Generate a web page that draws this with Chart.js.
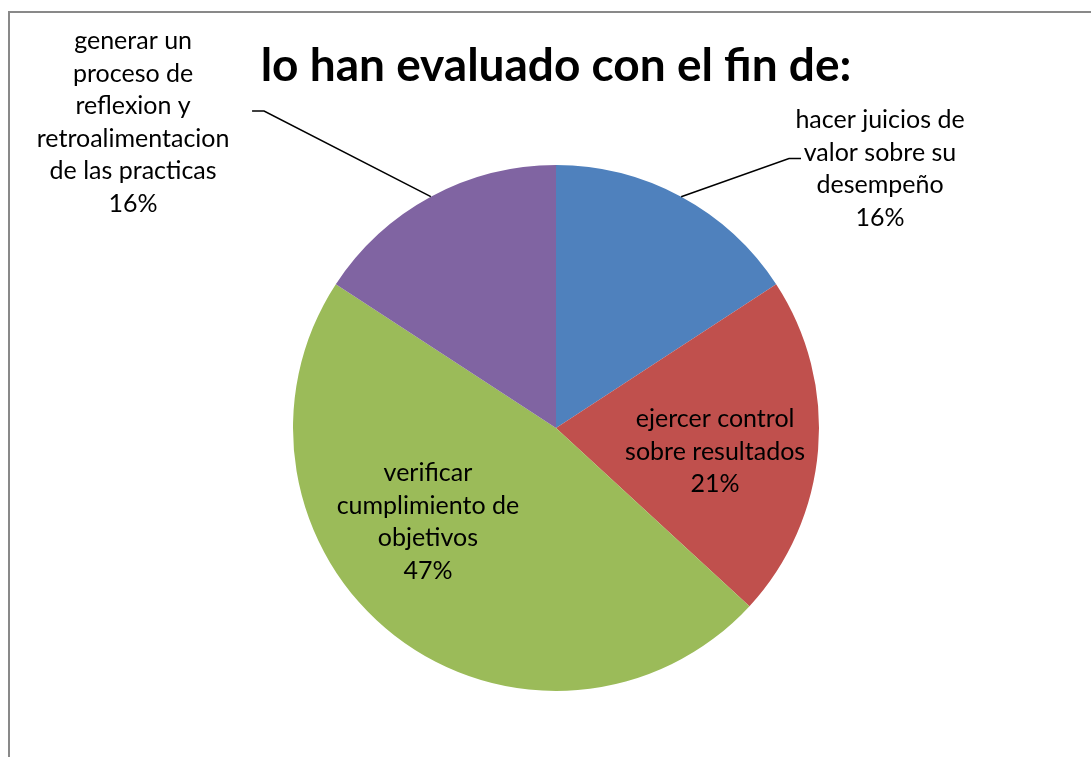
<!DOCTYPE html>
<html>
<head>
<meta charset="utf-8">
<script src="https://cdn.jsdelivr.net/npm/chart.js@4/dist/chart.umd.min.js"></script>
<style>
  body { margin: 0; background: #fff; }
</style>
</head>
<body>
<canvas id="grafico" width="1091" height="757"></canvas>
<script>
// Datos del grafico
const categorias = [
  ["hacer juicios de", "valor sobre su", "desempeño"],
  ["ejercer control", "sobre resultados"],
  ["verificar", "cumplimiento de", "objetivos"],
  ["generar un", "proceso de", "reflexion y", "retroalimentacion", "de las practicas"]
];
const respuestas = [3, 4, 9, 3];
const colores = ["#4F81BD", "#C0504D", "#9BBB59", "#8064A2"];
const titulo = "lo han evaluado con el fin de:";

// Ubicacion de las etiquetas (en unidades del radio, desde el centro)
const posEtiquetas = [
  { fuera: true, texto: [1.232, -0.985], codo: [0.886, -1.025] },
  { fuera: false, texto: [0.605, 0.091] },
  { fuera: false, texto: [-0.487, 0.357] },
  { fuera: true, texto: [-1.608, -1.162], codo: [-1.110, -1.205] }
];

const fuenteTexto = "25px Lato, 'Open Sans', sans-serif";
const altoLinea = 32.5;

// Marco gris del area del grafico
const marco = {
  id: "marco",
  beforeDraw(chart) {
    const ctx = chart.ctx;
    ctx.save();
    ctx.strokeStyle = "#898989";
    ctx.lineWidth = 2;
    ctx.beginPath();
    ctx.moveTo(9, chart.height + 5);
    ctx.lineTo(9, 12);
    ctx.lineTo(chart.width + 5, 12);
    ctx.stroke();
    ctx.restore();
  }
};

// Etiquetas con nombre y porcentaje
const etiquetas = {
  id: "etiquetas",
  afterDatasetsDraw(chart) {
    const ctx = chart.ctx;
    const meta = chart.getDatasetMeta(0);
    const total = respuestas.reduce((a, b) => a + b, 0);

    ctx.save();
    ctx.font = fuenteTexto;
    ctx.fillStyle = "#000";
    ctx.textAlign = "center";
    ctx.textBaseline = "middle";

    meta.data.forEach((arco, i) => {
      const r = arco.outerRadius;
      const pos = posEtiquetas[i];
      const lineas = categorias[i].concat([Math.round(respuestas[i] / total * 100) + "%"]);
      const tx = arco.x + pos.texto[0] * r;
      const ty = arco.y + pos.texto[1] * r;

      if (pos.fuera) {
        const medio = (arco.startAngle + arco.endAngle) / 2;
        const bx = arco.x + Math.cos(medio) * r;
        const by = arco.y + Math.sin(medio) * r;
        const cx = arco.x + pos.codo[0] * r;
        const cy = arco.y + pos.codo[1] * r;
        const fin = cx + (pos.codo[0] > 0 ? 12 : -12);
        ctx.strokeStyle = "#000";
        ctx.lineWidth = 1.5;
        ctx.beginPath();
        ctx.moveTo(bx, by);
        ctx.lineTo(cx, cy);
        ctx.lineTo(fin, cy);
        ctx.stroke();
      }

      const inicio = ty - (lineas.length - 1) * altoLinea / 2;
      lineas.forEach((texto, j) => {
        ctx.fillText(texto, tx, inicio + j * altoLinea);
      });
    });
    ctx.restore();
  }
};

new Chart(document.getElementById("grafico"), {
  type: "pie",
  data: {
    labels: categorias,
    datasets: [{
      data: respuestas,
      backgroundColor: colores,
      borderWidth: 0
    }]
  },
  options: {
    responsive: false,
    animation: false,
    layout: {
      padding: { top: 0, bottom: 66, left: 21, right: 0 }
    },
    plugins: {
      legend: { display: false },
      tooltip: { enabled: false },
      title: {
        display: true,
        text: titulo,
        color: "#000",
        font: { family: "Lato, 'Open Sans', sans-serif", size: 46, weight: "bold", lineHeight: 1.2 },
        padding: { top: 39, bottom: 70.8 }
      }
    }
  },
  plugins: [marco, etiquetas]
});
</script>
</body>
</html>
